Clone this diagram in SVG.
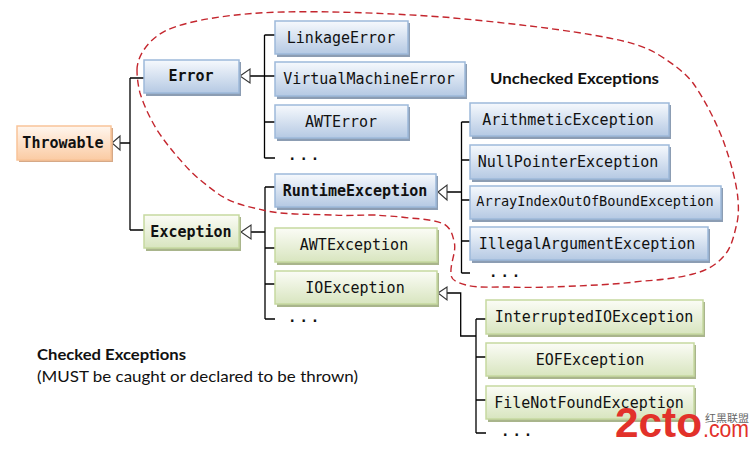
<svg xmlns="http://www.w3.org/2000/svg" width="752" height="449" viewBox="0 0 752 449">
<style>
text{font-family:"DejaVu Sans Mono","Liberation Mono",monospace;font-size:15px;fill:#111;text-anchor:middle}
.b{font-weight:bold}
.box{stroke-width:1.5}
.blue{fill:url(#gb);stroke:#9db9da}
.green{fill:url(#gg);stroke:#c6d9a0}
.orange{fill:url(#go);stroke:#f9c499}
.sb{fill:#8c9db3}.sg{fill:#a9b58c}.so{fill:#d6a987}
.conn{fill:none;stroke:#000;stroke-width:1.3}
.tri{fill:#fff;stroke:#333;stroke-width:1.1}
.dots{letter-spacing:3px;text-anchor:start;font-weight:bold;font-size:14px}
.note{font-family:"Lato","Open Sans",sans-serif;text-anchor:start;font-size:16px}
.wm{font-family:"Liberation Sans",sans-serif;fill:#e2312a;text-anchor:start}
</style>
<defs>
<linearGradient id="gb" x1="0" y1="0" x2="0" y2="1"><stop offset="0" stop-color="#f6f9fd"/><stop offset="1" stop-color="#b5c9e3"/></linearGradient>
<linearGradient id="gg" x1="0" y1="0" x2="0" y2="1"><stop offset="0" stop-color="#fbfcf6"/><stop offset="1" stop-color="#d8e5bf"/></linearGradient>
<linearGradient id="go" x1="0" y1="0" x2="0" y2="1"><stop offset="0" stop-color="#fff6ee"/><stop offset="1" stop-color="#fbcba3"/></linearGradient>
</defs>
<rect width="752" height="449" fill="#fff"/>
<g id="connectors">
<path class="conn" d="M120 143H130M130 78V230M130 78H145M130 230H145"/>
<path class="conn" d="M250 76H264.500M264.500 35V158M264.500 35H275M264.500 76H275M264.500 122H275M264.500 158H275"/>
<path class="conn" d="M265 187V319M265 187H275M251 232H265M265 248H275M265 284H275M265 319H275"/>
<path class="conn" d="M447 192H461.500M461.500 122V273M461.500 122H470M461.500 160H470M461.500 200H470M461.500 241H470M461.500 273H470"/>
<path class="conn" d="M447 293H460.700V336H476M476 319V433M476 319H486M476 357H486M476 400H486M476 433H486"/>
<path class="tri" d="M112 143L120 136V150Z"/>
<path class="tri" d="M240 76L250 69V83Z"/>
<path class="tri" d="M241 232L251 225V239Z"/>
<path class="tri" d="M438 192L447 185V200Z"/>
<path class="tri" d="M438 293L447 287V300Z"/>
</g>
<path id="unchecked-boundary" fill="none" stroke="#c4262e" stroke-width="1.4" stroke-dasharray="7 4" d="M137 70C137 55 150 38 167 30C190 20 235 13 283 12C330 11 385 13 443 17C500 22 570 30 609 38C635 43 648 48 659 55C675 65 685 73 693 83C705 100 716 122 723 140C731 162 737 185 738 200C739 212 738 220 736 227C733 240 730 250 723 257C715 266 705 271 693 274C678 278 660 280 643 281C620 284 598 285 576 286C553 287 530 288 509 287C490 287 476 288 466 285C456 282 451 280 451 274C450 262 457 252 454 241C452 232 450 228 444 224C435 220 423 219 409 218C395 216 385 216 376 215C360 215 346 216 333 215C310 214 287 215 267 211C250 207 232 204 217 193C205 184 194 176 183 163C173 152 165 142 157 130C150 118 144 106 140 93C138 85 137 77 137 70Z"/>
<g id="throwable"><rect class="so" x="19" y="128" width="94" height="34"/><rect class="box orange" x="17" y="126" width="94" height="34"/><text class="b" x="63" y="148">Throwable</text></g>
<g id="error"><rect class="sb" x="146" y="62" width="95" height="34"/><rect class="box blue" x="144" y="60" width="95" height="33"/><text class="b" x="191" y="81">Error</text></g>
<g id="exception"><rect class="sg" x="146" y="217" width="95" height="34"/><rect class="box green" x="144" y="215" width="95" height="33"/><text class="b" x="191" y="237">Exception</text></g>
<g id="linkage-error"><rect class="sb" x="277" y="23" width="133" height="34"/><rect class="box blue" x="275" y="21" width="133" height="33"/><text x="341" y="43">LinkageError</text></g>
<g id="virtual-machine-error"><rect class="sb" x="277" y="64" width="190" height="35"/><rect class="box blue" x="275" y="62" width="190" height="34"/><text x="369" y="84">VirtualMachineError</text></g>
<g id="awt-error"><rect class="sb" x="277" y="107" width="133" height="34"/><rect class="box blue" x="275" y="105" width="133" height="33"/><text x="341" y="127">AWTError</text></g>
<text class="dots" x="288" y="160">...</text>
<g id="runtime-exception"><rect class="sb" x="277" y="176" width="161" height="34"/><rect class="box blue" x="275" y="174" width="161" height="33"/><text class="b" x="355" y="196">RuntimeException</text></g>
<g id="arithmetic-exception"><rect class="sb" x="472" y="105" width="199" height="34"/><rect class="box blue" x="470" y="103" width="199" height="33"/><text x="568" y="125">ArithmeticException</text></g>
<g id="null-pointer-exception"><rect class="sb" x="472" y="147" width="199" height="35"/><rect class="box blue" x="470" y="145" width="199" height="34"/><text x="568" y="167">NullPointerException</text></g>
<g id="array-index-exception"><rect class="sb" x="472" y="188" width="251" height="34"/><rect class="box blue" x="470" y="186" width="251" height="33"/><text x="595" y="206" style="font-size:13.600px">ArrayIndexOutOfBoundException</text></g>
<g id="illegal-argument-exception"><rect class="sb" x="472" y="229" width="238" height="34"/><rect class="box blue" x="470" y="227" width="238" height="33"/><text x="587" y="249">IllegalArgumentException</text></g>
<text class="dots" x="489" y="277">...</text>
<g id="awt-exception"><rect class="sg" x="277" y="230" width="162" height="35"/><rect class="box green" x="275" y="228" width="162" height="34"/><text x="354" y="250">AWTException</text></g>
<g id="io-exception"><rect class="sg" x="277" y="273" width="162" height="34"/><rect class="box green" x="275" y="271" width="162" height="33"/><text x="355" y="293">IOException</text></g>
<text class="dots" x="288" y="322">...</text>
<g id="interrupted-io-exception"><rect class="sg" x="488" y="302" width="217" height="35"/><rect class="box green" x="486" y="300" width="217" height="34"/><text x="594" y="322">InterruptedIOException</text></g>
<g id="eof-exception"><rect class="sg" x="488" y="345" width="208" height="34"/><rect class="box green" x="486" y="343" width="208" height="33"/><text x="590" y="365">EOFException</text></g>
<g id="file-not-found-exception"><rect class="sg" x="488" y="388" width="208" height="34"/><rect class="box green" x="486" y="386" width="208" height="33"/><text x="589" y="408">FileNotFoundException</text></g>
<text class="dots" x="501" y="436">...</text>
<text class="note b" x="490" y="84" textLength="169" lengthAdjust="spacingAndGlyphs">Unchecked Exceptions</text>
<text class="note b" x="37" y="360" textLength="149" lengthAdjust="spacingAndGlyphs">Checked Exceptions</text>
<text class="note" x="37" y="382" textLength="321" lengthAdjust="spacingAndGlyphs">(MUST be caught or declared to be thrown)</text>
<g id="watermark">
<text class="wm" x="615" y="437" textLength="87" lengthAdjust="spacingAndGlyphs" style="font-size:43px;font-weight:bold">2cto</text>
<text class="wm" x="703" y="437" textLength="46" lengthAdjust="spacingAndGlyphs" style="font-size:23px">.com</text>
<text x="705" y="422" textLength="44" lengthAdjust="spacingAndGlyphs" style="font-family:'Noto Sans CJK SC',sans-serif;font-size:10px;fill:#666;text-anchor:start">红黑联盟</text>
</g>
</svg>
